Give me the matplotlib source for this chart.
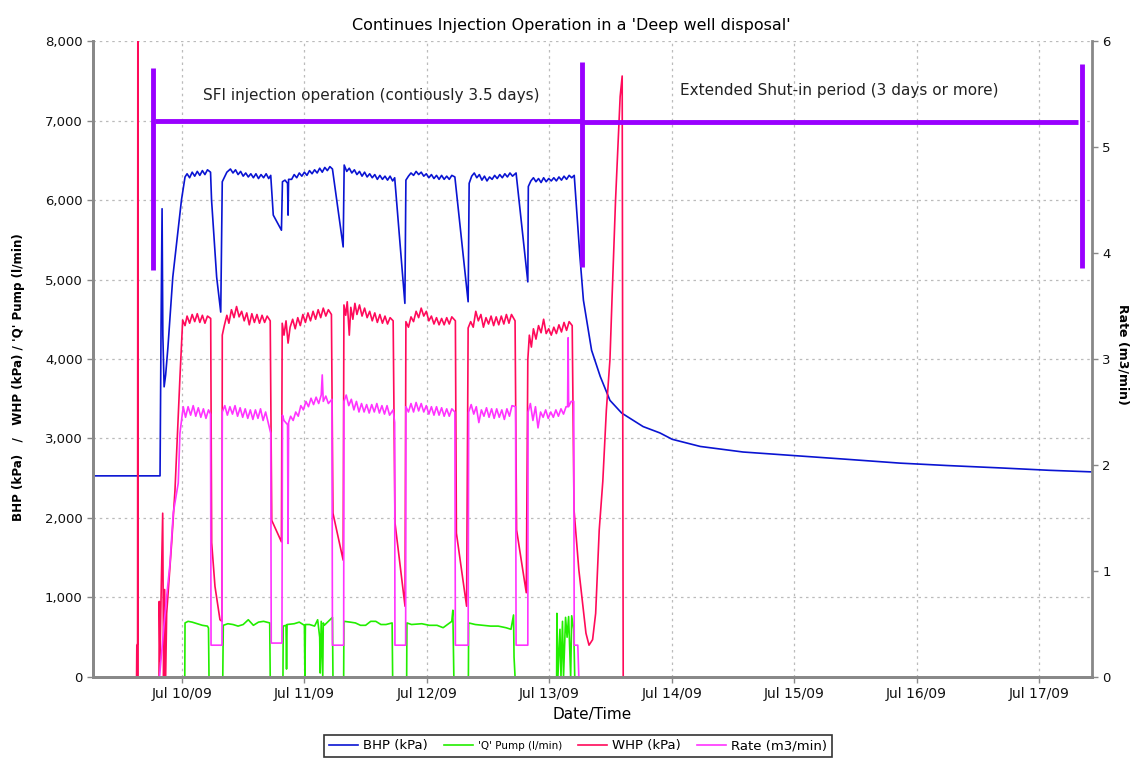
import numpy as np
import pandas as pd
import matplotlib
matplotlib.use("Agg")
import matplotlib.pyplot as plt
import matplotlib.dates as mdates

plt.rcParams['font.family'] = ['DejaVu Sans']

start = pd.Timestamp('2009-07-10 00:00')

# all series: (hours from Jul 10 00:00, value)
bhp = [(-17.5, 2530), (-4.3, 2530), (-4.1, 4400), (-3.9, 5890), (-3.75, 4300), (-3.5, 3650), (-3.2, 3800),
       (-2.75, 4150), (-1.8, 5030), (-0.1, 6000),
       (0.6, 6290), (1.0, 6330), (1.5, 6280), (2.0, 6350), (2.5, 6300), (3.0, 6360), (3.5, 6310), (4.0, 6370),
       (4.5, 6320), (5.0, 6380), (5.6, 6350),
       (5.8, 6000), (6.8, 5030), (7.6, 4590), (7.9, 6230),
       (8.8, 6350), (9.5, 6390), (10, 6340), (10.5, 6380), (11, 6320), (11.5, 6360), (12, 6300), (12.5, 6340),
       (13, 6290), (13.5, 6330), (14, 6280), (14.5, 6330), (15, 6270), (15.5, 6320), (16, 6280), (16.5, 6330),
       (17, 6270), (17.4, 6310),
       (17.9, 5810), (19.5, 5620), (19.7, 6230),
       (20.2, 6250), (20.7, 6210), (20.8, 5810), (20.9, 6260), (21.5, 6260), (22, 6320), (22.5, 6280), (23, 6340),
       (23.5, 6300), (24, 6350), (24.5, 6310), (25, 6370), (25.5, 6330), (26, 6380), (26.5, 6340), (27, 6400),
       (27.5, 6350), (28, 6410), (28.5, 6370), (29, 6420), (29.5, 6390),
       (31.6, 5410), (31.8, 6440),
       (32.3, 6360), (32.8, 6400), (33.3, 6340), (33.8, 6380), (34.3, 6320), (34.8, 6360), (35.3, 6300),
       (35.8, 6350), (36.3, 6290), (36.8, 6330), (37.3, 6280), (37.8, 6320), (38.3, 6260), (38.8, 6310),
       (39.3, 6260), (39.8, 6300), (40.3, 6250), (40.8, 6300), (41.3, 6240), (41.7, 6280),
       (43.7, 4700), (43.9, 6250),
       (44.4, 6300), (44.9, 6340), (45.4, 6310), (45.9, 6360), (46.4, 6320), (46.9, 6350), (47.4, 6300),
       (47.9, 6330), (48.4, 6280), (48.9, 6320), (49.4, 6270), (49.9, 6310), (50.4, 6260), (50.9, 6310),
       (51.4, 6260), (51.9, 6300), (52.4, 6260), (52.9, 6310), (53.5, 6290),
       (56.1, 4720), (56.3, 6210),
       (56.8, 6300), (57.3, 6340), (57.8, 6280), (58.3, 6320), (58.8, 6250), (59.3, 6300), (59.8, 6240),
       (60.3, 6290), (60.8, 6260), (61.3, 6310), (61.8, 6270), (62.3, 6320), (62.8, 6280), (63.3, 6330),
       (63.8, 6290), (64.3, 6340), (64.8, 6300), (65.5, 6340),
       (67.8, 4970), (67.9, 6170),
       (68.4, 6240), (68.9, 6280), (69.4, 6230), (69.9, 6270), (70.4, 6220), (70.9, 6280), (71.4, 6230),
       (71.9, 6270), (72.4, 6240), (72.9, 6280), (73.4, 6240), (73.9, 6290), (74.4, 6250), (74.9, 6300),
       (75.4, 6260), (75.9, 6310), (76.4, 6280), (76.9, 6310),
       (78.0, 5300), (78.7, 4740), (80.3, 4110), (82.0, 3780), (83.9, 3480), (86.2, 3320), (90.4, 3150),
       (93.7, 3070), (96.1, 2990), (101.6, 2900), (110, 2830), (121.2, 2780), (130, 2740), (140.8, 2690),
       (150, 2660), (160.4, 2630), (170, 2600), (178.4, 2580)]

q_pump = [(0.55, 0), (0.6, 680), (1.2, 700), (2, 690), (3, 670), (4, 650), (5.0, 640), (5.2, 615), (5.3, 0),
          (8.0, 0), (8.1, 650), (9, 670), (10, 660), (11, 640), (12, 660), (13, 720), (14, 650), (15, 690),
          (16, 700), (17.2, 680), (17.3, 0),
          (19.8, 0), (19.85, 640), (20.4, 650), (20.5, 100), (20.6, 660), (22, 670), (23, 690), (24.0, 650),
          (24.1, 0), (24.2, 660), (25, 660), (26, 640), (26.6, 720), (27.0, 500), (27.1, 50), (27.3, 700),
          (27.6, 0), (27.7, 680), (27.9, 650), (29.5, 750), (29.6, 0),
          (31.7, 0), (31.75, 700), (33, 690), (34, 680), (35, 650), (36, 650), (37, 700), (38, 700), (39, 660),
          (40, 660), (41.2, 680), (41.3, 0),
          (44.05, 0), (44.1, 680), (45, 660), (47, 670), (48.5, 650), (50, 650), (51.2, 620), (52.9, 700),
          (53.1, 840), (53.3, 0),
          (56.15, 0), (56.2, 680), (57.5, 660), (59, 650), (60.5, 640), (62, 640), (63.5, 620), (64.5, 600),
          (65.0, 780), (65.1, 250), (65.3, 0),
          (73.45, 0), (73.5, 800), (73.7, 0), (74.1, 600), (74.3, 0), (74.6, 700), (74.8, 0), (75.2, 750),
          (75.5, 500), (75.8, 760), (76.2, 0), (76.4, 770), (76.8, 600), (77.0, 0)]

whp = [(-8.9, 0), (-8.85, 400), (-8.7, 420), (-8.65, 9000), (-8.6, 0), (-4.5, 0), (-4.45, 950), (-4.3, 200),
       (-4.1, 1000), (-3.78, 2060), (-3.6, 0), (-3.4, 1100), (-3.2, 0), (-3.0, 800),
       (-2.02, 1690), (-1.37, 2350), (-0.39, 3780),
       (0.14, 4490), (0.6, 4420), (1.0, 4540), (1.5, 4450), (2.0, 4560), (2.5, 4470), (3.0, 4570), (3.5, 4460),
       (4.0, 4550), (4.5, 4450), (5.0, 4540), (5.63, 4510),
       (5.82, 1690), (6.47, 1140), (7.45, 720), (7.85, 700),
       (7.9, 4300), (8.3, 4420), (8.8, 4550), (9.2, 4450), (9.7, 4620), (10.2, 4520), (10.7, 4660), (11.2, 4530),
       (11.7, 4600), (12.2, 4480), (12.7, 4580), (13.2, 4430), (13.7, 4570), (14.2, 4460), (14.7, 4560),
       (15.2, 4450), (15.7, 4550), (16.2, 4460), (16.7, 4540), (17.3, 4480),
       (17.6, 1970), (19.5, 1700),
       (19.65, 4450), (20.0, 4300), (20.4, 4480), (20.8, 4200), (21.2, 4400), (21.7, 4500), (22.2, 4380),
       (22.7, 4520), (23.2, 4420), (23.7, 4560), (24.2, 4460), (24.7, 4580), (25.2, 4480), (25.7, 4600),
       (26.2, 4500), (26.7, 4620), (27.2, 4520), (27.7, 4640), (28.2, 4540), (28.7, 4620), (29.3, 4560),
       (29.6, 2060), (31.6, 1470),
       (31.75, 4680), (32.1, 4550), (32.4, 4720), (32.8, 4300), (33.1, 4650), (33.5, 4500), (33.9, 4700),
       (34.3, 4560), (34.8, 4680), (35.3, 4540), (35.8, 4640), (36.3, 4520), (36.8, 4600), (37.3, 4480),
       (37.8, 4580), (38.3, 4460), (38.8, 4560), (39.3, 4450), (39.8, 4540), (40.3, 4440), (40.8, 4520),
       (41.4, 4480),
       (41.76, 1940), (43.73, 890),
       (43.9, 4470), (44.4, 4400), (44.9, 4530), (45.4, 4470), (45.9, 4600), (46.4, 4520), (46.9, 4640),
       (47.4, 4540), (47.9, 4600), (48.4, 4480), (48.9, 4540), (49.4, 4440), (49.9, 4520), (50.4, 4430),
       (50.9, 4510), (51.4, 4430), (51.9, 4520), (52.4, 4440), (52.9, 4530), (53.6, 4480),
       (53.8, 1810), (54.8, 1350), (55.8, 890),
       (56.1, 4390), (56.6, 4470), (57.1, 4400), (57.6, 4600), (58.1, 4480), (58.6, 4560), (59.1, 4400),
       (59.6, 4520), (60.1, 4440), (60.6, 4540), (61.1, 4420), (61.6, 4530), (62.1, 4430), (62.6, 4540),
       (63.1, 4440), (63.6, 4560), (64.1, 4450), (64.6, 4560), (65.3, 4480),
       (65.6, 1850), (66.6, 1430), (67.5, 1060),
       (67.8, 3990), (68.1, 4300), (68.5, 4150), (68.9, 4380), (69.4, 4250), (69.9, 4420), (70.4, 4330),
       (70.9, 4500), (71.4, 4320), (71.9, 4380), (72.4, 4300), (72.9, 4400), (73.4, 4320), (73.9, 4430),
       (74.4, 4340), (74.9, 4460), (75.4, 4360), (75.9, 4470), (76.5, 4420),
       (76.86, 2100), (77.8, 1350), (79.2, 550), (79.8, 400), (80.5, 470), (81.1, 800), (81.8, 1850),
       (82.5, 2460), (83.2, 3360), (83.9, 3990), (84.3, 4740), (85.0, 6000), (85.9, 7300), (86.3, 7560),
       (86.5, 0)]

rate = [(-4.4, 0), (-3.5, 0.5), (-3.0, 0.76), (-2.35, 1.07), (-1.7, 1.55), (-0.73, 1.83), (-0.4, 2.3),
        (0.25, 2.55), (0.7, 2.45), (1.2, 2.55), (1.7, 2.47), (2.2, 2.56), (2.7, 2.46), (3.2, 2.54), (3.7, 2.45),
        (4.2, 2.53), (4.7, 2.44), (5.2, 2.52), (5.6, 2.48),
        (5.7, 0.3), (7.85, 0.3),
        (7.9, 2.5), (8.4, 2.56), (8.9, 2.47), (9.4, 2.55), (9.9, 2.48), (10.4, 2.56), (10.9, 2.46), (11.4, 2.54),
        (11.9, 2.45), (12.4, 2.53), (12.9, 2.44), (13.4, 2.52), (13.9, 2.43), (14.4, 2.52), (14.9, 2.44),
        (15.4, 2.53), (15.9, 2.42), (16.4, 2.5), (17.0, 2.38), (17.4, 2.3),
        (17.5, 0.32), (19.6, 0.32),
        (19.7, 2.47), (20, 2.42), (20.7, 2.38), (20.8, 1.26), (20.9, 2.4), (21.3, 2.46), (21.8, 2.42),
        (22.3, 2.5), (22.8, 2.46), (23.3, 2.56), (23.8, 2.52), (24.3, 2.6), (24.8, 2.55), (25.3, 2.63),
        (25.8, 2.57), (26.3, 2.64), (26.8, 2.58), (27.3, 2.66), (27.5, 2.85), (27.7, 2.6), (28.2, 2.65),
        (28.7, 2.58), (29.4, 2.62),
        (29.5, 0.3), (31.7, 0.3),
        (31.75, 2.6), (32.2, 2.66), (32.7, 2.56), (33.2, 2.62), (33.7, 2.52), (34.2, 2.6), (34.7, 2.5),
        (35.2, 2.58), (35.7, 2.5), (36.2, 2.57), (36.7, 2.49), (37.2, 2.57), (37.7, 2.5), (38.2, 2.58),
        (38.7, 2.49), (39.2, 2.56), (39.7, 2.48), (40.2, 2.56), (40.7, 2.47), (41.4, 2.52), (41.7, 2.4),
        (41.75, 0.3), (43.85, 0.3),
        (43.9, 2.55), (44.4, 2.5), (44.9, 2.58), (45.4, 2.5), (45.9, 2.59), (46.4, 2.51), (46.9, 2.58),
        (47.4, 2.5), (47.9, 2.56), (48.4, 2.48), (48.9, 2.55), (49.4, 2.47), (49.9, 2.55), (50.4, 2.47),
        (50.9, 2.54), (51.4, 2.46), (51.9, 2.53), (52.4, 2.46), (52.9, 2.53), (53.5, 2.5),
        (53.6, 0.3), (56.1, 0.3),
        (56.2, 2.5), (56.7, 2.57), (57.2, 2.48), (57.7, 2.55), (58.2, 2.4), (58.7, 2.52), (59.2, 2.46),
        (59.7, 2.54), (60.2, 2.45), (60.7, 2.53), (61.2, 2.44), (61.7, 2.53), (62.2, 2.45), (62.7, 2.52),
        (63.2, 2.43), (63.7, 2.53), (64.2, 2.46), (64.7, 2.56), (65.4, 2.55),
        (65.5, 0.3), (67.8, 0.3),
        (67.85, 2.5), (68.3, 2.58), (68.8, 2.42), (69.3, 2.55), (69.8, 2.35), (70.3, 2.5), (70.8, 2.45),
        (71.3, 2.52), (71.8, 2.44), (72.3, 2.5), (72.8, 2.45), (73.3, 2.52), (73.8, 2.46), (74.3, 2.53),
        (74.8, 2.48), (75.3, 2.55), (75.6, 2.55), (75.7, 3.2), (75.8, 2.55), (76.3, 2.6), (76.8, 2.6),
        (76.9, 0.3), (77.6, 0.3), (77.8, 0)]


def series(points):
    h, v = np.array(points, dtype=float).T
    return start + pd.to_timedelta(h, unit='h'), v


def at(hours):
    return start + pd.Timedelta(hours=hours)


fig = plt.figure(figsize=(11.42, 7.61), dpi=100)
ax = fig.add_axes([0.0814, 0.1104, 0.8748, 0.8357])
ax2 = ax.twinx()

l_bhp, = ax.plot(*series(bhp), color='#0A14D2', lw=1.2, label='BHP (kPa)')
l_q, = ax.plot(*series(q_pump), color='#22EE00', lw=1.2, label="'Q' Pump (l/min)")
l_whp, = ax.plot(*series(whp), color='#FF0A5A', lw=1.2, label='WHP (kPa)')
l_rate, = ax2.plot(*series(rate), color='#FF33FF', lw=1.2, label='Rate (m3/min)')

# bracket annotations
purple = '#9900FF'
for xs, ys in [((-5.69, -5.69), (5120, 7660)), ((-5.3, 78.2), (6990, 6990)),
               ((78.4, 78.4), (5160, 7736)), ((78.6, 175.7), (6980, 6980)),
               ((176.5, 176.5), (5145, 7710))]:
    ax.plot([at(x) for x in xs], ys, color=purple, lw=3.5, solid_capstyle='butt')
ax.text(at(37.1), 7320, 'SFI injection operation (contiously 3.5 days)',
        ha='center', va='center', fontsize=11, color='#222222')
ax.text(at(128.8), 7380, 'Extended Shut-in period (3 days or more)',
        ha='center', va='center', fontsize=11, color='#222222')

ax.set_xlim(at(-17.45), at(178.4))
ax.set_ylim(0, 8000)
ax2.set_ylim(0, 6)
ax.set_yticks(range(0, 8001, 1000))
ax.yaxis.set_major_formatter(matplotlib.ticker.FuncFormatter(lambda v, p: f'{int(v):,}'))
ax2.set_yticks(range(0, 7))
ax.xaxis.set_major_locator(mdates.DayLocator())
ax.xaxis.set_major_formatter(mdates.DateFormatter('%b %d/%y'))

ax.grid(True, color='#BBBBBB', linestyle=(0, (2, 3)), lw=0.9)
for a in (ax, ax2):
    a.spines['top'].set_visible(False)
    for s in ('left', 'right', 'bottom'):
        a.spines[s].set_color('#888888')
        a.spines[s].set_linewidth(2)
    a.tick_params(colors='#888888', labelcolor='#111111', labelsize=9.5, length=4, width=1)
ax.tick_params(axis='x', labelsize=10)
ax.spines['right'].set_visible(False)

ax.set_xlabel('Date/Time', fontsize=11, labelpad=4)
ax.set_ylabel("BHP (kPa)   /   WHP (kPa) / 'Q' Pump (l/min)", fontsize=8.6, fontweight='bold')
ax.yaxis.set_label_coords(-0.068, 0.472)
ax2.set_ylabel('Rate (m3/min)', fontsize=9, fontweight='bold', rotation=270, va='center')
ax2.yaxis.set_label_coords(1.031, 0.507)
fig.suptitle("Continues Injection Operation in a 'Deep well disposal'", y=0.977, fontsize=11.5)

leg = fig.legend(handles=[l_bhp, l_q, l_whp, l_rate], loc='center', bbox_to_anchor=(0.506, 0.02),
                 ncol=4, fontsize=9.5, frameon=True, fancybox=False, edgecolor='black',
                 handlelength=2.2, handletextpad=0.4, columnspacing=1.2, borderpad=0.35)
leg.get_frame().set_linewidth(1.2)
leg.get_texts()[1].set_fontsize(7.5)

fig.savefig('out.png', dpi=100)
